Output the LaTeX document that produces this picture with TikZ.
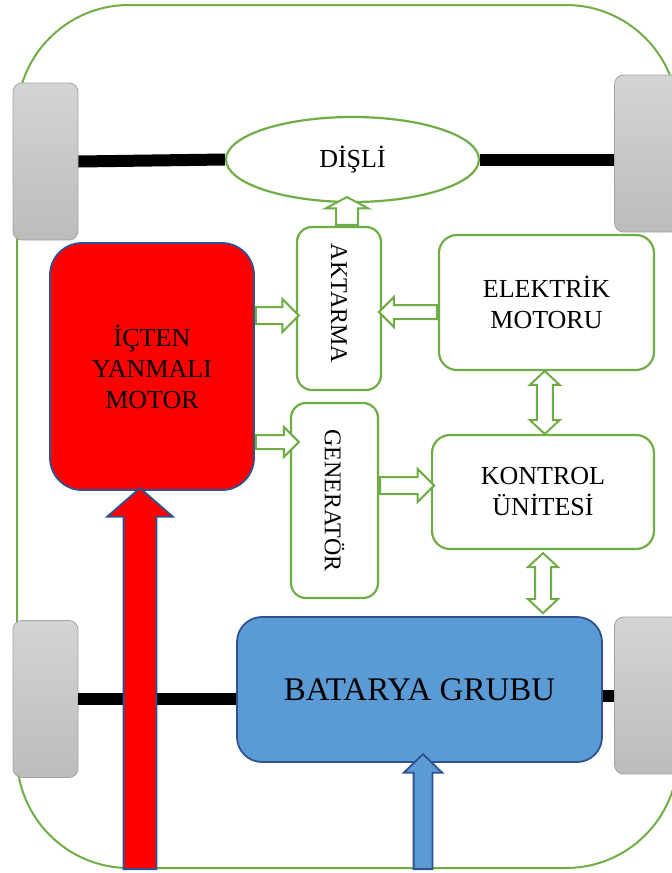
\documentclass[tikz,border=0pt]{standalone}
\usepackage{fontspec}
\setmainfont{Liberation Serif}
\usetikzlibrary{positioning, calc, shapes.geometric, shapes.arrows}
\definecolor{frameGreen}{RGB}{112,173,71}
\definecolor{engineRed}{RGB}{255,0,0}
\definecolor{edgeNavy}{RGB}{47,82,143}
\definecolor{batteryBlue}{RGB}{91,155,213}
\definecolor{wheelTop}{RGB}{212,212,212}
\definecolor{wheelBottom}{RGB}{188,188,188}
\definecolor{wheelEdge}{RGB}{165,165,165}

\begin{document}
\begin{tikzpicture}[x=1pt, y=-1pt,
    unit/.style={draw=frameGreen, line width=2.2pt, fill=white, rounded corners=18pt, align=center, inner sep=0pt, font=\fontsize{26}{31}\selectfont},
    vtext/.style={rotate=-90, font=\fontsize{24}{28}\selectfont},
    wheel/.style={draw=wheelEdge, line width=0.8pt, top color=wheelTop, bottom color=wheelBottom, rounded corners=9pt, minimum width=65pt, minimum height=157pt, inner sep=0pt},
    axle/.style={line width=12pt},
    garrow/.style={single arrow, draw=frameGreen, line width=2pt, fill=white, inner sep=7pt, single arrow head extend=8pt, single arrow tip angle=90, anchor=tail},
    gdarrow/.style={double arrow, draw=frameGreen, line width=2pt, fill=white, inner sep=7pt, double arrow head extend=7pt, double arrow tip angle=94, rotate=90},
    redarrow/.style={single arrow, draw=edgeNavy, line width=1.8pt, fill=engineRed, inner sep=15.5pt, single arrow head extend=16.5pt, single arrow tip angle=98, rotate=90, anchor=tail},
    bluearrow/.style={single arrow, draw=edgeNavy, line width=1.8pt, fill=batteryBlue, inner sep=8.5pt, single arrow head extend=10pt, single arrow tip angle=92, rotate=90, anchor=tail}]
    \useasboundingbox (0,0) rectangle (672,873);
    % car body
    \draw[frameGreen, line width=2pt, rounded corners=112pt] (17,5) rectangle (678,868);
    \node[wheel] (wheelTL) at (45.5,161.5) {};
    \node[wheel] (wheelTR) at (647,153.5) {};
    \node[wheel] (wheelBL) at (45.5,699) {};
    \node[wheel] (wheelBR) at (647,695.5) {};

    \node[ellipse, draw=frameGreen, line width=2.2pt, fill=white, minimum width=253pt, minimum height=85pt, inner sep=0pt, font=\fontsize{26}{31}\selectfont] (disli) at (352.5,159.5) {DİŞLİ};
    \node[unit, minimum width=84pt, minimum height=163pt, rounded corners=15pt, label={[vtext, xshift=-5pt]center:AKTARMA}] (akt) at (339,308.5) {};
    \node[unit, minimum width=215pt, minimum height=135pt] (elek) at (546.5,302.5) {ELEKTRİK\\MOTORU};
    \node[unit, minimum width=87pt, minimum height=195pt, rounded corners=15pt, label={[vtext]center:GENERATÖR}] (gen) at (334.5,500.5) {};
    \node[unit, minimum width=222pt, minimum height=114pt] (kon) at (543,492) {KONTROL\\ÜNİTESİ};
    \node[unit, draw=edgeNavy, line width=1.8pt, fill=engineRed, rounded corners=32pt, minimum width=204pt, minimum height=247pt] (ice) at (152,366.5) {İÇTEN\\YANMALI\\MOTOR};
    \node[unit, draw=edgeNavy, line width=1.8pt, fill=batteryBlue, rounded corners=25pt, minimum width=365pt, minimum height=145pt, font=\fontsize{33}{38}\selectfont] (bat) at (419.5,689.5) {BATARYA GRUBU};

    % axles
    \draw[axle] (wheelTL.east) -- (disli.west);
    \draw[axle] (disli.east) -- (disli.east -| wheelTR.west);
    \draw[axle] (wheelBL.east) -- (wheelBL.east -| bat.west);
    \draw[axle] (bat.east |- wheelBR.west) -- (wheelBR.west);

    % power flow
    \node[garrow, minimum height=43pt, inner sep=7.5pt] (ice2akt) at (ice.east |- 0,315.5) {};
    \node[garrow, minimum height=43pt, inner sep=6pt] (ice2gen) at (ice.east |- 0,442) {};
    \node[garrow, rotate=180, minimum height=58pt, inner sep=6pt] (elek2akt) at (elek.west |- 0,312) {};
    \node[garrow, minimum height=54pt, inner sep=7.5pt] (gen2kon) at (gen.east |- 0,485.5) {};
    \node[garrow, rotate=90, minimum height=24pt, inner sep=10pt, single arrow head extend=10.5pt, single arrow tip angle=124] (akt2disli) at ($(akt.north)+(8,0)$) {};
    \node[gdarrow, minimum height=63pt] (elek2kon) at ($(elek.south)!.5!(kon.north)$) {};
    \node[gdarrow, minimum height=60pt] (kon2bat) at ($(kon.south)!.5!(kon.south |- bat.north)$) {};

    \coordinate (fuelIn) at (140,870);
    \coordinate (chargeIn) at (423,870);
    \node[redarrow, minimum height=381pt] (fuel) at (fuelIn) {};
    \node[bluearrow, minimum height=115pt] (charge) at (chargeIn) {};
\end{tikzpicture}
\end{document}
